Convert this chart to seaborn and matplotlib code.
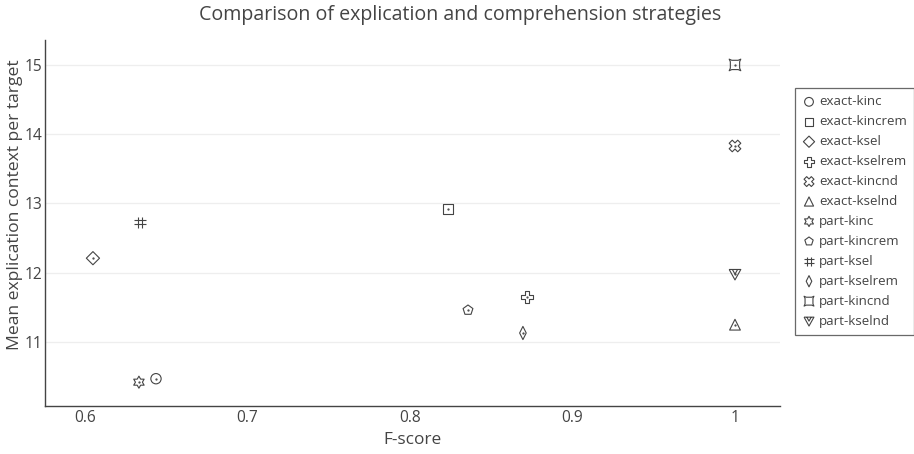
import numpy as np
import matplotlib
matplotlib.use("Agg")
import matplotlib.pyplot as plt
from matplotlib.path import Path
import seaborn as sns

names = ["exact-kinc", "exact-kincrem", "exact-ksel", "exact-kselrem", "exact-kincnd", "exact-kselnd",
         "part-kinc", "part-kincrem", "part-ksel", "part-kselrem", "part-kincnd", "part-kselnd"]
fscore = [0.6437, 0.8234, 0.6049, 0.8720, 1.0, 1.0,
          0.6332, 0.8357, 0.6338, 0.8695, 1.0, 1.0]
context = [10.47, 12.92, 12.21, 11.65, 13.83, 11.25,
           10.42, 11.46, 12.73, 11.13, 15.0, 11.98]
xticks = [0.6, 0.7, 0.8, 0.9, 1.0]
xticklabels = ["0.6", "0.7", "0.8", "0.9", "1"]
yticks = [11, 12, 13, 14, 15]


def poly(pts):
    pts = list(pts) + [pts[0]]
    codes = [Path.MOVETO] + [Path.LINETO] * (len(pts) - 2) + [Path.CLOSEPOLY]
    return Path(pts, codes)


def cross_path(w=0.36, rot=0.0):
    pts = [(w, 1), (w, w), (1, w), (1, -w), (w, -w), (w, -1), (-w, -1), (-w, -w),
           (-1, -w), (-1, w), (-w, w), (-w, 1)]
    c, s = np.cos(rot), np.sin(rot)
    return poly([(x * c - y * s, x * s + y * c) for x, y in pts])


def hexagram():
    pts = []
    for k in range(12):
        a = np.pi / 2 + k * np.pi / 6
        r = 1.0 if k % 2 == 0 else 0.577
        pts.append((r * np.cos(a), r * np.sin(a)))
    return poly(pts)


def hash_path():
    v = [(-0.4, -1), (-0.4, 1), (0.4, -1), (0.4, 1), (-1, -0.4), (1, -0.4), (-1, 0.4), (1, 0.4)]
    codes = [Path.MOVETO, Path.LINETO] * 4
    return Path(v, codes)


def star_square():
    pts = [(1, 1), (0.55, 0.8), (-0.55, 0.8), (-1, 1), (-0.8, 0.55), (-0.8, -0.55), (-1, -1),
           (-0.55, -0.8), (0.55, -0.8), (1, -1), (0.8, -0.55), (0.8, 0.55)]
    return poly(pts)


def tri_down_y():
    v = [(-1, 0.8), (1, 0.8), (0, -1), (-1, 0.8), (-0.45, 0.8), (0, 0.0), (0.45, 0.8)]
    codes = [Path.MOVETO, Path.LINETO, Path.LINETO, Path.LINETO, Path.MOVETO, Path.LINETO, Path.LINETO]
    return Path(v, codes)


markers = ["o", "s", "D", cross_path(), cross_path(rot=np.pi / 4), "^",
           hexagram(), "p", hash_path(), poly([(0, 1), (0.5, 0), (0, -1), (-0.5, 0)]),
           star_square(), tri_down_y()]
sizes = [55, 50, 45, 70, 70, 60, 75, 55, 65, 90, 70, 70]
dots = [True, True, True, True, True, True, True, True, False, True, True, True]

sns.set_theme(style="white")
plt.rcParams["font.family"] = ["Open Sans", "DejaVu Sans"]

fig = plt.figure(figsize=(9.14, 4.54), dpi=100)
ax = fig.add_axes([45 / 914, 1 - 406 / 454, 735 / 914, 366 / 454])

col = "#444444"
for n, x, y, m, s, d in zip(names, fscore, context, markers, sizes, dots):
    sns.scatterplot(x=[x], y=[y], marker=m, s=s, facecolors="none", edgecolors=col,
                    linewidths=0.8, ax=ax, label=n, legend=False)
    if d:
        ax.scatter([x], [y], marker=".", s=1.5, color=col, zorder=3)

ax.set_xlim(0.5754, 1.0277)
ax.set_ylim(10.076, 15.36)
ax.set_xticks(xticks)
ax.set_xticklabels(xticklabels)
ax.set_yticks(yticks)
ax.tick_params(axis="both", labelsize=11.2, colors="#444444", length=0)
ax.tick_params(axis="x", pad=3)
ax.tick_params(axis="y", pad=2)
ax.grid(axis="y", color="#eeeeee", linewidth=0.9)
ax.grid(axis="x", visible=False)
for side in ["top", "right"]:
    ax.spines[side].set_visible(False)
for side in ["left", "bottom"]:
    ax.spines[side].set_color("#444444")
    ax.spines[side].set_linewidth(1.0)

ax.set_xlabel("F-score", fontsize=12.4, color="#444444")
ax.xaxis.set_label_coords(0.5, (406 - 440) / 366)
ax.xaxis.label.set_va("center")
ax.set_ylabel("Mean explication context per target", fontsize=12.6, color="#444444")
ax.yaxis.set_label_coords((15 - 45) / 735, (406 - 205) / 366)
ax.yaxis.label.set_va("center")
fig.suptitle("Comparison of explication and comprehension strategies", fontsize=14.1,
             color="#444444", x=460 / 914, y=1 - 5 / 454, va="top")

leg = ax.legend(loc="upper left", bbox_to_anchor=(795 / 914, 1 - 88 / 454),
                bbox_transform=fig.transFigure, borderaxespad=0, frameon=True,
                fontsize=9.6, labelspacing=0.52, handletextpad=0.25, borderpad=0.55,
                fancybox=False, handlelength=1.0, markerscale=0.85)
leg.get_frame().set_edgecolor("#444444")
leg.get_frame().set_linewidth(0.9)
for t in leg.get_texts():
    t.set_color("#444444")

fig.savefig("out.png", dpi=100)
